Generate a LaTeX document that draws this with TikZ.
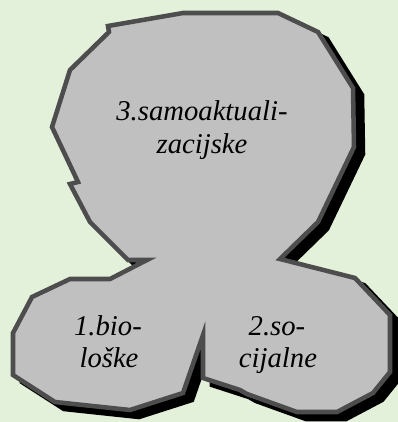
\documentclass[tikz,border=0pt]{standalone}
\usepackage{fontspec}
\setmainfont{Liberation Serif}
\definecolor{bggreen}{HTML}{E3F0DA}
\definecolor{blobfill}{HTML}{C0C0C0}
\definecolor{blobline}{HTML}{4D4D4D}
\begin{document}
\begin{tikzpicture}[x=0.75pt,y=-0.75pt,
  blobstyle/.style={fill=blobfill,draw=blobline,line width=3.4pt,line join=miter},
  shadowstyle/.style={fill=black,draw=black,line width=3.4pt,line join=miter},
  lbl/.style={font=\itshape\fontsize{21.5}{24}\selectfont,anchor=base,inner sep=0pt}]
\fill[bggreen] (0,0) rectangle (398,422);
\useasboundingbox (0,0) rectangle (398,422);
\def\blobpath{(108,26) -- (183,13) -- (278,13) -- (318,32) -- (353,88) -- (354,147)
  -- (318,222) -- (280,259) -- (355,278) -- (390,315) -- (390,372) -- (373,393)
  -- (337,412) -- (297,412) -- (247,394) -- (240,390) -- (203,378) -- (203,335)
  -- (183,393) -- (130,410) -- (55,402) -- (13,375) -- (13,333) -- (32,297)
  -- (70,279) -- (110,279) -- (147,260) -- (128,260) -- (90,222) -- (70,184)
  -- (78,182) -- (52,127) -- (70,70) -- (109,32) -- cycle}
\begin{scope}[shift={(9,7)}]
\path[shadowstyle] \blobpath;
\end{scope}
\path[blobstyle] \blobpath;
\node[lbl] (t1) at (202,120) {3.samoaktuali-};
\node[lbl] (t2) at (202,153) {zacijske};
\node[lbl] (b1) at (108,335) {1.bio-};
\node[lbl] (b2) at (109,367) {loške};
\node[lbl] (s1) at (277,335) {2.so-};
\node[lbl] (s2) at (278,367) {cijalne};
\end{tikzpicture}
\end{document}
